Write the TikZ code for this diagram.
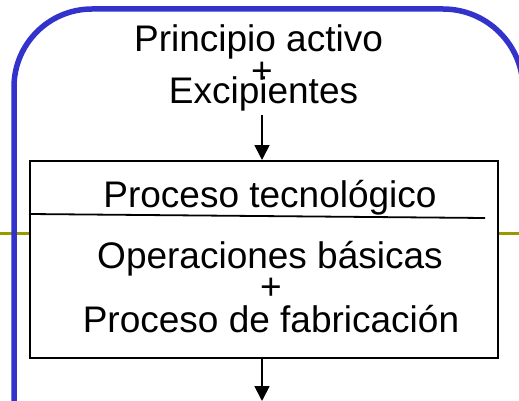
\documentclass[tikz,border=0pt]{standalone}
\usepackage{fontspec}
\setmainfont{Liberation Sans}
\usetikzlibrary{arrows.meta}
\definecolor{frameblue}{RGB}{51,51,204}
\definecolor{olivebar}{RGB}{153,153,0}
\tikzset{
  txt/.style={anchor=base, inner sep=0pt, font=\fontsize{37}{44}\selectfont},
  frame/.style={draw=frameblue, line width=5.5pt},
  rule/.style={draw=olivebar, line width=3pt},
  boxline/.style={draw=black, line width=1.8pt},
  flow/.style={draw=black, line width=1.8pt, -{Triangle[width=15pt,length=15pt]}},
}
\begin{document}
\begin{tikzpicture}[x=1pt,y=1pt]
\useasboundingbox (0,0) rectangle (519,-401);
\clip (0,0) rectangle (519,-401);
% olive rule
\coordinate (ol1) at (0,-233);
\coordinate (ol2) at (29,-233);
\coordinate (or1) at (497,-233);
\coordinate (or2) at (519,-233);
\draw[rule] (ol1) -- (ol2);
\draw[rule] (or1) -- (or2);
% blue frame
\draw[frame] (14,-410) -- (14,-87) arc[start angle=180,end angle=90,radius=78]
  -- (443,-9) arc[start angle=90,end angle=0,radius=80] -- (523,-410);
% box
\node[boxline, minimum width=468pt, minimum height=197pt, inner sep=0pt, anchor=north west] (box) at (29,-160) {};
\coordinate (dl) at (29,-214);
\coordinate (dr) at (485,-218);
\draw[boxline] (dl) -- (dr);
% texts
\node[txt] (pa) at (258.5,-52) {Principio activo};
\node[txt] (plus1) at (262,-84) {+};
\node[txt] (ex) at (263.5,-103) {Excipientes};
\node[txt] (pt) at (270,-207) {Proceso tecnológico};
\node[txt] (ob) at (270,-268) {Operaciones básicas};
\node[txt] (plus2) at (271,-299) {+};
\node[txt] (pf) at (271,-332) {Proceso de fabricación};
% arrows
\coordinate (a1s) at (262,-115);
\coordinate (out) at (262,-401);
\draw[flow] (a1s) -- (box.north -| a1s);
\draw[flow] (box.south -| out) -- (out);
\end{tikzpicture}
\end{document}
